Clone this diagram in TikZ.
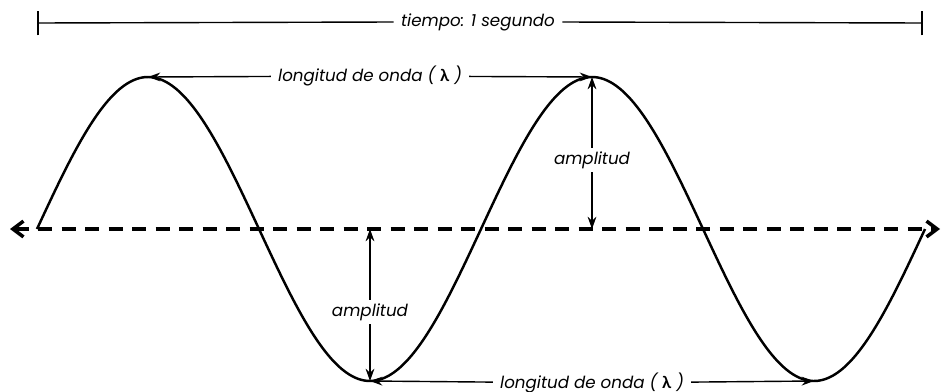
\documentclass[tikz,border=0pt]{standalone}
\usepackage{fontspec}
\setmainfont{Poppins}
\newfontfamily\greekfont{Lato}
\usetikzlibrary{arrows.meta, positioning}

\begin{document}
\begin{tikzpicture}[
    x=0.02cm, y=-0.02cm,
    wave/.style={line width=1.4pt},
    axisline/.style={line width=2pt, dash pattern=on 0.28cm off 0.19cm},
    measure/.style={line width=0.8pt, -{Stealth[length=7pt, width=5pt]}},
    label/.style={fill=white, inner sep=2pt, font=\fontsize{9.5}{11}\selectfont\itshape}
  ]
    \useasboundingbox (0,0) rectangle (943,392);

    % Key points of the wave
    \coordinate (start) at (37,229);
    \coordinate (crest1) at (148,77);
    \coordinate (crest2) at (592,77);
    \coordinate (trough1) at (370,381);
    \coordinate (trough2) at (814,381);
    \coordinate (zero2) at (592,229);
    \coordinate (zero1) at (370,229);

    % Dashed axis
    \coordinate (axisL) at (10,229);
    \coordinate (axisR) at (940,229);
    \draw[axisline, {Straight Barb[length=6pt, width=9pt]}-{Straight Barb[length=6pt, width=9pt]}] (axisL) -- (axisR);

    % Sine wave
    \draw[wave, domain=37:925, samples=200, smooth]
      plot (\x, {229 - 152*sin((\x-37)/444*360)});

    % Time bar
    \coordinate (timeL) at (38,23);
    \coordinate (timeR) at (922,23);
    \node[label, inner sep=4pt] (time) at (478,22) {tiempo: 1 segundo};
    \draw[line width=0.8pt] (timeL) -- (time.west);
    \draw[line width=0.8pt] (time.east) -- (timeR);
    \foreach \p in {timeL, timeR}
      \draw[line width=0.8pt] ([yshift=-7]\p) -- ([yshift=7]\p);

    % Wavelength, top
    \node[label, inner sep=4pt] (wltop) at (370,76) {longitud de onda ( {\greekfont\upshape\bfseries λ} )};
    \draw[measure] (wltop) -- (crest1);
    \draw[measure] (wltop) -- (crest2);

    % Wavelength, bottom
    \node[label, inner sep=4pt] (wlbottom) at (592,383) {longitud de onda ( {\greekfont\upshape\bfseries λ} )};
    \draw[measure] (wlbottom) -- (trough1);
    \draw[measure] (wlbottom) -- (trough2);

    % Amplitude, right
    \node[label] (amptop) at (592,160) {amplitud};
    \draw[measure] (amptop) -- (crest2);
    \draw[measure] (amptop) -- (zero2);

    % Amplitude, left
    \node[label] (ampbottom) at (370,312) {amplitud};
    \draw[measure] (ampbottom) -- (zero1);
    \draw[measure] (ampbottom) -- (trough1);
  \end{tikzpicture}
\end{document}
